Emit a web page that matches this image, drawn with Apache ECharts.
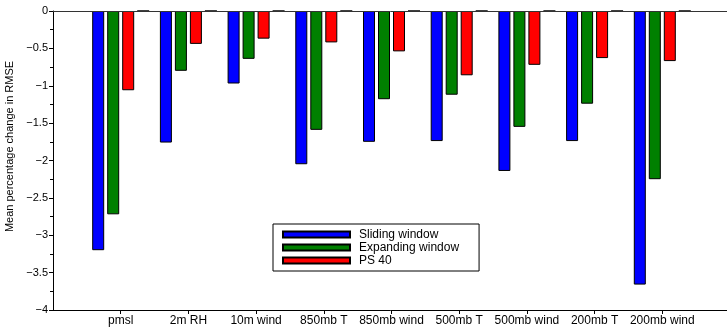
<!DOCTYPE html>
<html>
<head>
<meta charset="utf-8">
<script src="https://cdn.jsdelivr.net/npm/echarts@6/dist/echarts.min.js"></script>
<style>
  html,body{margin:0;padding:0;background:#fff;}
  #chart{width:727px;height:327px;}
</style>
</head>
<body>
<div id="chart"></div>
<script>
// variables along the x axis
var categories = ['pmsl', '2m RH', '10m wind', '850mb T', '850mb wind', '500mb T', '500mb wind', '200mb T', '200mb wind']
// mean percentage change in RMSE
var sliding   = [-3.20, -1.76, -0.97, -2.05, -1.75, -1.74, -2.14, -1.74, -3.66]
var expanding = [-2.72, -0.80, -0.64, -1.59, -1.18, -1.12, -1.55, -1.24, -2.25]
var ps40      = [-1.06, -0.44, -0.37, -0.42, -0.54, -0.86, -0.72, -0.63, -0.67]
// fourth (empty) bar in every group, only shows as a black stub on the zero line
var empty     = [0, 0, 0, 0, 0, 0, 0, 0, 0]
var yTicks = { min: -4, max: 0, step: 0.5 }

// pad one blank slot on each side so the axis runs from 0 to 10 like the original
function pad(arr, blank){
    return [blank].concat(arr).concat([blank])
}
var xCats = pad(categories, '')
xCats[xCats.length - 1] = ' '

var fontFam = '"Liberation Sans", Arial, Helvetica, sans-serif'
var bar = function(name, data, color){
    return {
        name: name,
        type: 'bar',
        data: pad(data, null),
        barWidth: 12,
        barGap: '25%',
        itemStyle: { color: color, borderColor: '#000', borderWidth: 1 },
        emphasis: { disabled: true }
    }
}

var series = [
    bar('Sliding window', sliding, '#0000ff'),
    bar('Expanding window', expanding, '#008000'),
    bar('PS 40', ps40, '#ff0000'),
    bar('empty', empty, '#000000')
]
series[3].itemStyle.borderWidth = 1.5
// baseline at zero
series[0].markLine = {
    silent: true,
    symbol: 'none',
    label: { show: false },
    lineStyle: { color: '#333', width: 1, type: 'solid' },
    data: [{ yAxis: 0 }]
}

var option = {
    animation: false,
    textStyle: { fontFamily: fontFam },
    grid: { left: 53, top: 11, height: 299, width: 677, containLabel: false, outerBoundsMode: 'none' },
    legend: {
        data: ['Sliding window', 'Expanding window', 'PS 40'],
        orient: 'vertical',
        left: 273,
        top: 224,
        itemWidth: 67,
        itemHeight: 6,
        itemGap: 0,
        icon: 'rect',
        padding: [4, 20, 4, 9],
        borderColor: '#000',
        borderWidth: 1,
        backgroundColor: '#fff',
        selectedMode: false,
        textStyle: { fontSize: 12, color: '#000', lineHeight: 13, padding: [0, 0, 0, 4], fontFamily: fontFam }
    },
    xAxis: {
        type: 'category',
        data: xCats,
        boundaryGap: false,
        axisLine: { onZero: false, lineStyle: { color: '#000', width: 1 } },
        axisTick: {
            show: true,
            inside: false,
            length: 4,
            lineStyle: { color: '#000' },
            interval: function(i, v){ return v.trim() !== '' }
        },
        axisLabel: {
            color: '#000',
            fontSize: 12,
            margin: 5,
            interval: function(i, v){ return v.trim() !== '' }
        },
        splitLine: { show: false }
    },
    yAxis: {
        type: 'value',
        min: yTicks.min,
        max: yTicks.max,
        interval: yTicks.step,
        name: 'Mean percentage change in RMSE',
        nameLocation: 'middle',
        nameGap: 36,
        nameTextStyle: { fontSize: 11, color: '#000', padding: [0, 0, 0, 28] },
        axisLine: { show: true, lineStyle: { color: '#000', width: 1 } },
        axisTick: { show: true, length: 4, lineStyle: { color: '#000' } },
        minorTick: { show: true, splitNumber: 2, length: 3, lineStyle: { color: '#000' } },
        axisLabel: {
            color: '#000',
            fontSize: 11,
            margin: 5,
            formatter: function(v){
                if (v === 0) return '0'
                return '\u2212' + Math.abs(v)
            }
        },
        splitLine: { show: false }
    },
    series: series
}

var myChart = echarts.init(document.getElementById('chart'))
myChart.setOption(option)
</script>
</body>
</html>
